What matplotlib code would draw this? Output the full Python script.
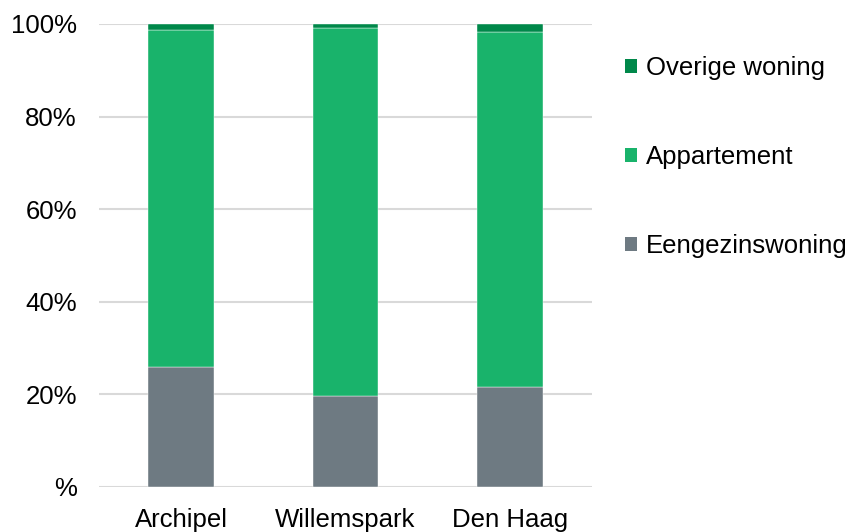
import matplotlib
matplotlib.use("Agg")
import matplotlib.pyplot as plt
from matplotlib.patches import Patch
import numpy as np

categories = ["Archipel", "Willemspark", "Den Haag"]
eengezins = [25.9, 19.6, 21.7]
appartement = [72.8, 79.5, 76.6]
overige = [1.3, 0.9, 1.7]
series_names = ["Eengezinswoning", "Appartement", "Overige woning"]
yticks = [0, 20, 40, 60, 80, 100]
ytick_labels = ["%", "20%", "40%", "60%", "80%", "100%"]

colors = ["#6E7A82", "#19B36B", "#00884A"]

plt.rcParams['font.family'] = ['Liberation Sans', 'DejaVu Sans']
fig = plt.figure(figsize=(8.55, 5.32), dpi=100)
ax = fig.add_axes([0.1158, 0.0846, 0.5766, 0.8703])

x = np.arange(len(categories))
w = 0.40
bottom = np.zeros(len(categories))
handles = []
for vals, name, c in zip([eengezins, appartement, overige], series_names, colors):
    ax.bar(x, vals, w, bottom=bottom, color=c, edgecolor="#FFFFFF", linewidth=0.3, zorder=3)
    bottom += np.array(vals)
    handles.append(Patch(facecolor=c, label=name))

ax.set_xlim(-0.5, 2.5)
ax.set_ylim(0, 100)
ax.set_yticks(yticks)
ax.set_yticklabels(ytick_labels)
ax.set_xticks(x)
ax.set_xticklabels(categories)
ax.tick_params(axis='y', length=0, pad=16, labelsize=18.5, colors="#000000")
ax.tick_params(axis='x', length=0, pad=15, labelsize=18.5)
ax.yaxis.grid(True, color="#D9D9D9", linewidth=1.5, zorder=0)
for s in ax.spines.values():
    s.set_visible(False)

leg = fig.legend(handles=handles[::-1], loc="upper left", bbox_to_anchor=(0.731, 0.894),
                 frameon=False, fontsize=18.5, handlelength=0.48, handleheight=0.48,
                 handletextpad=0.35, labelspacing=2.52, borderaxespad=0, borderpad=0)

fig.savefig("out.png", dpi=100)
